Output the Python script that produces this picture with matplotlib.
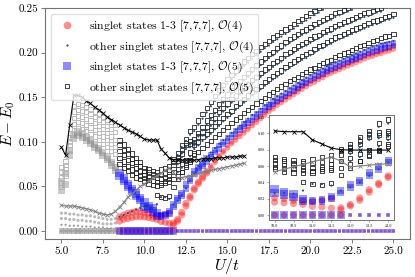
import numpy as np
import matplotlib
matplotlib.use("Agg")
import matplotlib.pyplot as plt
from matplotlib.lines import Line2D
from matplotlib.colors import to_rgba
from matplotlib.ticker import FormatStrFormatter, MultipleLocator

plt.rcParams['font.family'] = 'serif'
plt.rcParams['font.serif'] = ['cmr10']
plt.rcParams['mathtext.fontset'] = 'cm'
plt.rcParams['axes.formatter.use_mathtext'] = True

STEP = 0.25          # U/t grid spacing of the data
U_CUT = 8.4          # below this the data are drawn in grey

# ---------------- data (E - E0), start value of U/t for each list ----------------
ground_start = 5.0
ground = [0.0] * 81

r_start = 5.0   # singlet states 2,3, O(4)
r_a = [.020,.020,.019,.019,.018,.018,.017,.017,.016,.015,.014,.013,.013,.014,
       .016,.018,.020,.021,.022,.022,.021,.020,.018,.017,.017,.018,.020,.009,
       .013,.021,.031,.039,.048,.055,.061,.067,.073,.079,.085,.090,
       .096,.100,.105,.109,.113,.117,.121,.125,.129,.133,.137,.140,
       .144,.147,.150,.153,.156,.159,.162,.165,.168,.170,.173,.175,
       .178,.180,.182,.184,.186,.188,.190,.192,.194,.196,.198,.199,
       .201,.202,.204,.205,.207]
r_b = [.014,.014,.013,.013,.012,.012,.011,.011,.010,.009,.008,.008,.008,.009,
       .011,.013,.014,.015,.016,.016,.0157,.015,.014,.013,.0106,.0098,.0085,.0065,
       .011,.018,.028,.037,.046,.053,.059,.065,.071,.077,.083,.088,
       .093,.098,.102,.106,.110,.114,.118,.122,.126,.130,.134,.137,
       .141,.144,.147,.150,.153,.156,.159,.162,.165,.167,.170,.172,
       .175,.177,.179,.181,.183,.185,.187,.189,.191,.193,.195,.196,
       .198,.199,.201,.202,.204]

b_start = 5.0   # singlet states 2,3, O(5)
b_a = [.055,.065,.090,.108,.111,.109,.105,.101,.097,.093,.088,.083,.077,.071,
       .065,.059,.052,.047,.042,.037,.032,.028,.0255,.020,.018,.019,.0225,.030,
       .037,.042,.052,.059,.067,.071,.076,.081,.086,.091,.096,.100,
       .104,.108,.112,.116,.120,.124,.128,.131,.135,.139,.142,.146,
       .149,.152,.155,.158,.161,.164,.167,.170,.173,.175,.178,.180,
       .183,.185,.187,.189,.191,.193,.195,.197,.199,.201,.203,.205,
       .206,.208,.209,.210,.211]
b_b = [.046,.052,.085,.104,.107,.105,.101,.098,.094,.090,.085,.080,.074,.068,
       .062,.056,.050,.045,.040,.035,.027,.025,.022,.017,.016,.017,.020,.027,
       .034,.040,.048,.056,.064,.068,.073,.078,.083,.088,.092,.097,
       .101,.105,.109,.113,.117,.121,.124,.128,.132,.135,.139,.142,
       .145,.148,.151,.154,.157,.160,.163,.166,.169,.171,.174,.176,
       .179,.181,.183,.185,.187,.189,.191,.193,.195,.197,.199,.201,
       .202,.204,.205,.206,.208]

line_start = 5.0
black_x = [.094,.085,.119,.152,.152,.150,.146,.143,.139,.136,.132,.128,.125,.122,
           .119,.116,.113,.111,.109,.106,
           .103,.102,.102,.102,.092,.087,.082,.080,.0795,.0795,.0795,.0795,.0795,
           .080,.081,.081,.081,.082,.082,.082,.083,.083,.083,.084,.084]
gray_x = [.029,.028,.028,.028,.027,.026,.025,.024,.022,.020,.019,.018,.019,.022,
          .027,.032,.038,.042,.046,.050,
          .053,.056,.059,.062,.065,.068,.071,.066,.059,.060,.061,.062,.063,
          .065,.066,.067,.068,.069,.070,.071,.072,.073,.074,.075,.076]

# other singlet states, O(5) (open squares)
o5_start = 5.0
s1 = [.072,.078,.110,.140,.142,.141,.139,.137,.134,.131,.128,.125,.122,.119,
      .102,.097,.092,.087,.082,.077,.071,.069,.067,.066,.069,.071,.073,.081,.087,.096,.103,.112,
      .117,.124,.131,.138,.145,.151,.158,.164,.170,.175,.180,.185,.190,.194,.198,.202,
      .206,.210,.213,.217,.220,.223,.226,.229,.232,.235,.238,.241,.244,.247,.250]
s2 = [.066,.074,.105,.134,.136,.135,.133,.131,.128,.125,.122,.118,.114,.111,
      .096,.091,.086,.081,.077,.073,.067,.066,.064,.063,.064,.065,.068,.078,.083,.091,.099,.101,
      .103,.110,.117,.124,.130,.136,.142,.148,.153,.158,.163,.168,.173,.177,.182,.186,
      .190,.194,.198,.201,.205,.208,.212,.215,.218,.221,.224,.226,.229,.232,.234,.237,
      .239,.241,.244,.246,.248,.250]
s3 = [.060,.070,.100,.127,.129,.128,.126,.124,.121,.118,.114,.110,.106,.102,
      .090,.085,.080,.076,.071,.067,.063,.061,.061,.059,.058,.059,.062,.074,.079,.087,.096,.098,
      .100,.106,.111,.117,.122,.127,.133,.138,.143,.148,.152,.157,.161,.165,.169,.173,
      .177,.181,.184,.188,.191,.194,.198,.201,.204,.207,.210,.212,.215,.218,.220,.223,
      .225,.227,.230,.232,.234,.236,.238,.240,.242,.244,.245,.247,.249,.250]
s4 = [.054,.066,.096,.120,.122,.121,.119,.116,.113,.110,.106,.102,.098,.094,
      .082,.078,.073,.069,.065,.062,.059,.057,.056,.055,.054,.056,.058,.066,.070,.075,.080,.088,
      .096,.100,.105,.109,.113,.118,.122,.127,.131,.135,.140,.144,.148,.152,.156,.159,
      .163,.167,.170,.174,.177,.180,.184,.187,.190,.193,.196,.198,.201,.204,.207,.209,
      .212,.214,.217,.219,.221,.223,.225,.227,.229,.231,.233,.235,.236,.238,.240,.241,.243]
s5 = [.049,.062,.092,.113,.115,.114,.112,.109,.106,.102,.098,.094,.090,.086,
      .075,.071,.067,.063,.060,.058,.056,.053,.052,.051,.052,.054,.055,.058,.062,.066,.072,.078,
      .085,.089,.093,.097,.101,.105,.109,.113,.117,.121,.125,.128,.132,.136,.139,.143,
      .146,.149,.153,.156,.159,.162,.165,.168,.170,.173,.176,.178,.181,.183,.186,.188,
      .190,.192,.195,.197,.199,.201,.203,.205,.207,.209,.211,.213,.214,.216,.218,.219,.221]
s0_start = 10.75
s0 = [.040,.038,.037,.039,.049,.058,.066,.074,.080,.087]

# other singlet states, O(4) (small dots)
d0_start = 8.5
d0 = [.016,.018,.020,.022,.024,.026,
      .027,.027,.026,.030,.038,.038,.036,.030,.034,.040,.048,.056,
      .064,.073,.078,.083,.088,.093,.098,.102,.106,.110,.114,.118,.122,.126,.130,.133,
      .137,.141,.144,.148,.151,.154,.157,.160,.163,.166,.169,.172,.175,.177,.180,.182,
      .185,.187,.189,.191,.193,.195,.197,.199,.201,.203,.205,.207,.208,.210,.211,.212,.213]
dd_start = 12.0
d1 = [.085,.094,.101,.108,.112,.119,.126,.133,.140,.146,.153,.159,.165,.170,.175,.180,
      .185,.189,.193,.197,.201,.205,.208,.212,.215,.218,.221,.224,.227,.230,.233,.236,
      .239,.242,.245,.248]
d2 = [.079,.087,.095,.097,.099,.106,.113,.120,.126,.132,.138,.144,.149,.154,.159,.164,
      .169,.173,.178,.182,.186,.190,.194,.197,.201,.204,.208,.211,.214,.217,.220,.222,
      .225,.228,.230,.233,.235,.237,.240,.242,.244,.246,.248]
d3 = [.075,.083,.092,.094,.096,.102,.107,.113,.118,.123,.129,.134,.139,.144,.148,.153,
      .157,.161,.165,.169,.173,.177,.180,.184,.187,.190,.194,.197,.200,.203,.206,.208,
      .211,.214,.216,.219,.221,.223,.226,.228,.230,.232,.234,.236,.238,.240,.241,.243,
      .245,.246]
d4 = [.066,.071,.076,.084,.092,.096,.101,.105,.109,.114,.118,.123,.127,.131,.136,.140,
      .144,.148,.152,.155,.159,.163,.166,.170,.173,.176,.180,.183,.186,.189,.192,.194,
      .197,.200,.203,.205,.208,.210,.213,.215,.217,.219,.221,.223,.225,.227,.229,.231,
      .232,.234,.236,.237,.239]
dl_start = 5.0
dl = [.007,.007,.006,.006,.006,.005,.005,.005,.004,.004,.004,.003,.003,.003]

legend_labels = [r'singlet states 1-3 [7,7,7], $\mathcal{O}(4)$',
                 r'other singlet states [7,7,7], $\mathcal{O}(4)$',
                 r'singlet states 1-3 [7,7,7], $\mathcal{O}(5)$',
                 r'other singlet states [7,7,7], $\mathcal{O}(5)$']

# ---------------- styling ----------------
RED, BLUE, DOT = 'red', 'blue', '#2c4f70'
GREY_FILL, GREY_OPEN, GREY_DOT = '#8a8a8a', '#b3b3b3', '#9a9a9a'


def series(start, vals, lo, hi):
    v = np.array(vals, dtype=float)
    x = start + STEP * np.arange(len(v))
    m = (x >= lo - 1e-9) & (x <= hi + 1e-9)
    return x[m], v[m]


def cols(x, c, a, gc, ga):
    return [to_rgba(gc, ga) if xi < U_CUT else to_rgba(c, a) for xi in x]


def draw(ax, lo, hi):
    x, v = series(ground_start, ground, lo, hi)
    ax.scatter(x, v, s=np.where(x < U_CUT, 5, np.where(x < 12, 22, 5)), marker='o',
               c=cols(x, RED, 0.45, GREY_FILL, 0.6), linewidths=0, zorder=2)
    ax.scatter(x, v, s=np.where(x < U_CUT, 16, np.where(x < 12, 32, 8)), marker='s',
               c=cols(x, BLUE, 0.4, GREY_FILL, 0.5), linewidths=0, zorder=2)
    for vals in (r_a, r_b):
        x, v = series(r_start, vals, lo, hi)
        ax.scatter(x, v, s=np.where(x < U_CUT, 5, np.where(x < 14, 26, 16)), marker='o',
                   c=cols(x, RED, 0.4, GREY_FILL, 0.6), linewidths=0, zorder=2)
    for vals in (b_a, b_b):
        x, v = series(b_start, vals, lo, hi)
        ax.scatter(x, v, s=np.where(x < U_CUT, 26, np.where(x < 11, 36, np.where(x < 14, 24, 16))),
                   marker='s', c=cols(x, BLUE, 0.4, GREY_FILL, 0.45), linewidths=0, zorder=2)
    for start, vals in ((o5_start, s1), (o5_start, s2), (o5_start, s3), (o5_start, s4),
                        (o5_start, s5), (s0_start, s0)):
        x, v = series(start, vals, lo, hi)
        ax.scatter(x, v, s=9, marker='s', facecolors='none',
                   edgecolors=cols(x, '#222222', 1, GREY_OPEN, 1), linewidths=0.6, zorder=3)
    for start, vals in ((d0_start, d0), (dd_start, d1), (dd_start, d2), (dd_start, d3),
                        (dd_start, d4), (dl_start, dl)):
        x, v = series(start, vals, lo, hi)
        ax.scatter(x, v, s=2.5, marker='o', c=cols(x, DOT, 1, GREY_DOT, 1),
                   linewidths=0, zorder=4)
    x, v = series(line_start, black_x, lo, hi)
    ax.plot(x, v, '-x', color='black', lw=0.8, ms=2.6, mew=0.6, zorder=5)
    x, v = series(line_start, gray_x, lo, hi)
    ax.plot(x, v, '-x', color='#808080', lw=0.8, ms=2.6, mew=0.6, zorder=5)


fig = plt.figure(figsize=(4.15, 2.77), dpi=100)
ax = fig.add_axes([0.108, 0.137, 0.880, 0.834])
draw(ax, 5.0, 25.0)
ax.set_xlim(4.0, 26.0)
ax.set_ylim(-0.009, 0.25)
ax.xaxis.set_major_locator(MultipleLocator(2.5))
ax.yaxis.set_major_locator(MultipleLocator(0.05))
ax.xaxis.set_major_formatter(FormatStrFormatter('%.1f'))
ax.yaxis.set_major_formatter(FormatStrFormatter('%.2f'))
ax.tick_params(labelsize=8, length=3, width=0.6, color='0.4', pad=2)
for sp in ax.spines.values():
    sp.set_color('0.45')
    sp.set_linewidth(0.8)
ax.set_xlabel(r'$U/t$', fontsize=11.5, labelpad=0)
ax.set_ylabel(r'$E - E_0$', fontsize=11)
ax.yaxis.set_label_coords(-0.076, 0.5)

handles = [Line2D([], [], ls='none', marker='o', color=RED, alpha=0.45, ms=5.5, mew=0),
           Line2D([], [], ls='none', marker='o', color=DOT, ms=1.6, mew=0),
           Line2D([], [], ls='none', marker='s', color=BLUE, alpha=0.45, ms=5.5, mew=0),
           Line2D([], [], ls='none', marker='s', mfc='none', mec='#222222', ms=3, mew=0.6)]
ax.legend(handles, legend_labels, loc='upper left', fontsize=8.5, labelspacing=0.45,
          borderaxespad=0.5, handletextpad=0.8, framealpha=0.8, edgecolor='0.85')

ins = fig.add_axes([0.648, 0.206, 0.301, 0.379])
draw(ins, 10.0, 13.0)
ins.set_xlim(9.85, 13.15)
ins.set_ylim(-0.006, 0.1225)
ins.xaxis.set_major_locator(MultipleLocator(0.5))
ins.yaxis.set_major_locator(MultipleLocator(0.02))
ins.xaxis.set_major_formatter(FormatStrFormatter('%.1f'))
ins.yaxis.set_major_formatter(FormatStrFormatter('%.2f'))
ins.tick_params(labelsize=3, length=1.5, width=0.4, pad=1, color='0.4')
for sp in ins.spines.values():
    sp.set_color('0.45')
    sp.set_linewidth(0.7)

fig.savefig('out.png', dpi=100)
